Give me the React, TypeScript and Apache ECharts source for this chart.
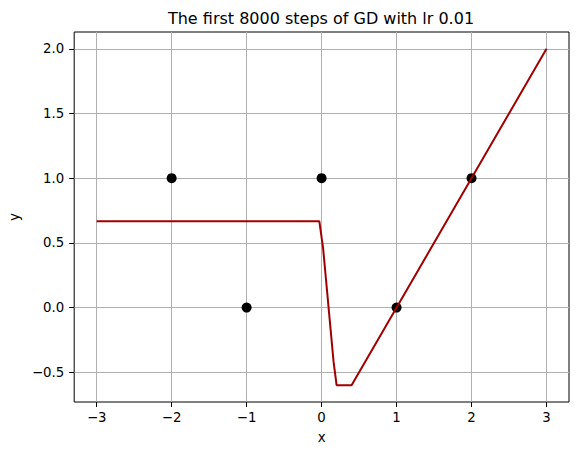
import React, { useEffect, useRef } from "react";
import * as echarts from "echarts";

const titleText = "The first 8000 steps of GD with lr 0.01";
const xTicks = [-3, -2, -1, 0, 1, 2, 3];
const yTicks = [-0.5, 0, 0.5, 1.0, 1.5, 2.0];
const pointsX = [-2, -1, 0, 1, 2];
const pointsY = [1, 0, 1, 0, 1];
const lineX = [-3, -0.03, 0.02, 0.16, 0.2, 0.4, 3];
const lineY = [0.667, 0.667, 0.46, -0.42, -0.6, -0.6, 2.0];

const FONT = "DejaVu Sans";
const minus = (s: string) => s.replace("-", "\u2212");

export default function App() {
  const ref = useRef<HTMLDivElement>(null);
  useEffect(() => {
    if (!ref.current) return;
    const chart = echarts.init(ref.current, undefined, { renderer: "svg" });
    chart.setOption({
      animation: false,
      backgroundColor: "#ffffff",
      grid: {
        left: 73,
        top: 32,
        right: 9,
        bottom: 53,
        show: true,
        borderColor: "#000000",
        borderWidth: 1,
        backgroundColor: "transparent",
      },
      graphic: [
        {
          type: "text",
          x: 321,
          y: 18,
          style: {
            text: titleText,
            fontFamily: FONT,
            fontSize: 16,
            fill: "#000000",
            align: "center",
            verticalAlign: "middle",
          },
        },
      ],
      xAxis: {
        type: "value",
        min: -3.3,
        max: 3.3,
        name: "x",
        nameLocation: "middle",
        nameGap: 29,
        nameTextStyle: { fontFamily: FONT, fontSize: 13.3, color: "#000" },
        axisLine: { show: false, onZero: false },
        axisTick: {
          show: true,
          inside: false,
          length: 5,
          lineStyle: { color: "#000", width: 1 },
          customValues: xTicks,
        },
        axisLabel: {
          customValues: xTicks,
          fontFamily: FONT,
          fontSize: 13.3,
          color: "#000",
          margin: 9,
          formatter: (v: number) => minus(String(v)),
        },
        splitLine: { show: true, lineStyle: { color: "#b0b0b0", width: 1 } },
      },
      yAxis: {
        type: "value",
        min: -0.73,
        max: 2.13,
        name: "y",
        nameLocation: "middle",
        nameGap: 48,
        nameTextStyle: { fontFamily: FONT, fontSize: 13.3, color: "#000" },
        axisLine: { show: false, onZero: false },
        axisTick: {
          show: true,
          inside: false,
          length: 5,
          lineStyle: { color: "#000", width: 1 },
          customValues: yTicks,
        },
        axisLabel: {
          customValues: yTicks,
          fontFamily: FONT,
          fontSize: 13.3,
          color: "#000",
          margin: 10,
          formatter: (v: number) => minus(v.toFixed(1)),
        },
        splitLine: { show: true, lineStyle: { color: "#b0b0b0", width: 1 } },
      },
      series: [
        {
          type: "scatter",
          data: pointsX.map((x, i) => [x, pointsY[i]]),
          symbol: "circle",
          symbolSize: 10,
          itemStyle: { color: "#000000", opacity: 1 },
          z: 2,
        },
        {
          type: "line",
          data: lineX.map((x, i) => [x, lineY[i]]),
          showSymbol: false,
          symbol: "none",
          lineStyle: { color: "#a00000", width: 2 },
          z: 3,
        },
      ],
    });
    return () => chart.dispose();
  }, []);
  return (
    <div
      ref={ref}
      style={{ position: "fixed", left: 0, top: 0, width: 578, height: 455 }}
    />
  );
}
